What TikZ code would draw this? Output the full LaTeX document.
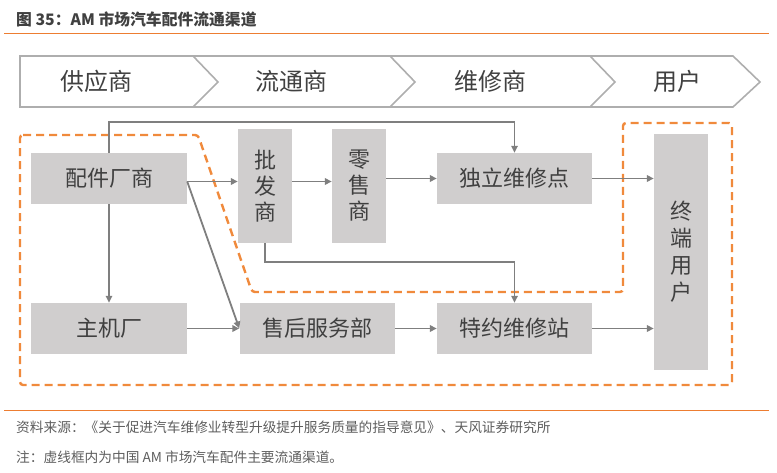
\documentclass[tikz,border=0pt]{standalone}
\usepackage{fontspec}
\setmainfont{Noto Sans CJK SC}
\usetikzlibrary{arrows.meta,positioning}
\definecolor{boxgray}{HTML}{D0CECE}
\definecolor{linegray}{HTML}{7F7F7F}
\definecolor{bargray}{HTML}{AEAEAE}
\definecolor{txtgray}{HTML}{404040}
\definecolor{dashorange}{HTML}{F08A3C}
\definecolor{ruleorange}{HTML}{ED7D31}

\begin{document}
\begin{tikzpicture}[x=1pt,y=-1pt,
  box/.style={fill=boxgray,inner sep=0pt,text=txtgray,align=center,
    font=\fontsize{22}{26}\selectfont},
  hbox/.style={box,minimum width=156pt,minimum height=51pt},
  vbox/.style={box,minimum width=54pt},
  stage/.style={text=txtgray,font=\fontsize{24}{28}\selectfont},
  arr/.style={draw=linegray,line width=1.8pt,-{Triangle[length=7pt,width=6.5pt]}},
  note/.style={anchor=west,inner sep=0pt,text=txtgray!85,font=\fontsize{13.7}{16}\selectfont}]
\useasboundingbox (0,0) rectangle (777,473);

% title and rules
\node[anchor=west,inner sep=0pt,text=txtgray,font=\bfseries\fontsize{15.8}{18}\selectfont] (title) at (16,19) {图 35：AM 市场汽车配件流通渠道};
\draw[ruleorange,line width=1pt] (4,34) -- (769,34);
\draw[ruleorange,line width=1pt] (4,410) -- (769,410);

% stage bar
\draw[bargray,line width=1.6pt,line join=miter] (20,56) -- (733,56) -- (760,82) -- (733,107) -- (20,107) -- cycle;
\draw[bargray,line width=1.6pt] (193,56) -- (218,82) -- (193,107);
\draw[bargray,line width=1.6pt] (390,56) -- (415,82) -- (390,107);
\draw[bargray,line width=1.6pt] (590,56) -- (615,82) -- (590,107);
\node[stage] (gys) at (96,81) {供应商};
\node[stage] (lts) at (291,81) {流通商};
\node[stage] (wxs) at (490,81) {维修商};
\node[stage] (yh) at (677,81) {用户};

% main channels (dashed)
\draw[dashorange,line width=2.4pt,dash pattern=on 8pt off 5pt,rounded corners=3pt]
  (20,135) -- (198,135) -- (252,292) -- (623,292) -- (623,123) -- (732,123)
  -- (732,385) -- (20,385) -- cycle;

% boxes
\node[hbox] (pj) at (109,178.5) {配件厂商};
\node[vbox,minimum height=114pt] (pf) at (265,186) {批\\发\\商};
\node[vbox,minimum height=114pt] (ls) at (359,186) {零\\售\\商};
\node[hbox,minimum width=155pt] (dl) at (514.5,178.5) {独立维修点};
\node[vbox,minimum height=236pt,font=\fontsize{22}{27}\selectfont] (zd) at (681,252) {终\\端\\用\\户};
\node[hbox] (zj) at (109,328.5) {主机厂};
\node[hbox,minimum width=155pt] (sh) at (317,328.5) {售后服务部};
\node[hbox,minimum width=155pt] (ty) at (514.5,328.5) {特约维修站};

% connectors
\coordinate (pjout) at ([yshift=-3pt]pj.east);
\draw[arr] (pjout) -- (pjout -| pf.west);
\draw[arr] (pjout -| pf.east) -- (pjout -| ls.west);
\draw[arr] (dl.west -| ls.east) -- (dl.west);
\draw[arr] (dl.east) -- (dl.east -| zd.west);
\draw[arr,line width=1.5pt] (pj.north) -- ++(0,-31) -| (dl.north);
\draw[arr,line width=1.5pt] (pj.south) -- (zj.north);
\draw[arr] (pjout) -- (sh.west);
\draw[arr] (zj.east) -- (sh.west);
\draw[arr] (sh.east) -- (ty.west);
\draw[arr] (ty.east) -- (ty.east -| zd.west);
\draw[arr,line width=1.5pt] (pf.south) -- ++(0,19) -| (ty.north);

% notes
\node[note] (src) at (16,427) {资料来源：《关于促进汽车维修业转型升级提升服务质量的指导意见》、天风证券研究所};
\node[note] (zhu) at (16,457) {注：虚线框内为中国 AM 市场汽车配件主要流通渠道。};
\end{tikzpicture}
\end{document}
